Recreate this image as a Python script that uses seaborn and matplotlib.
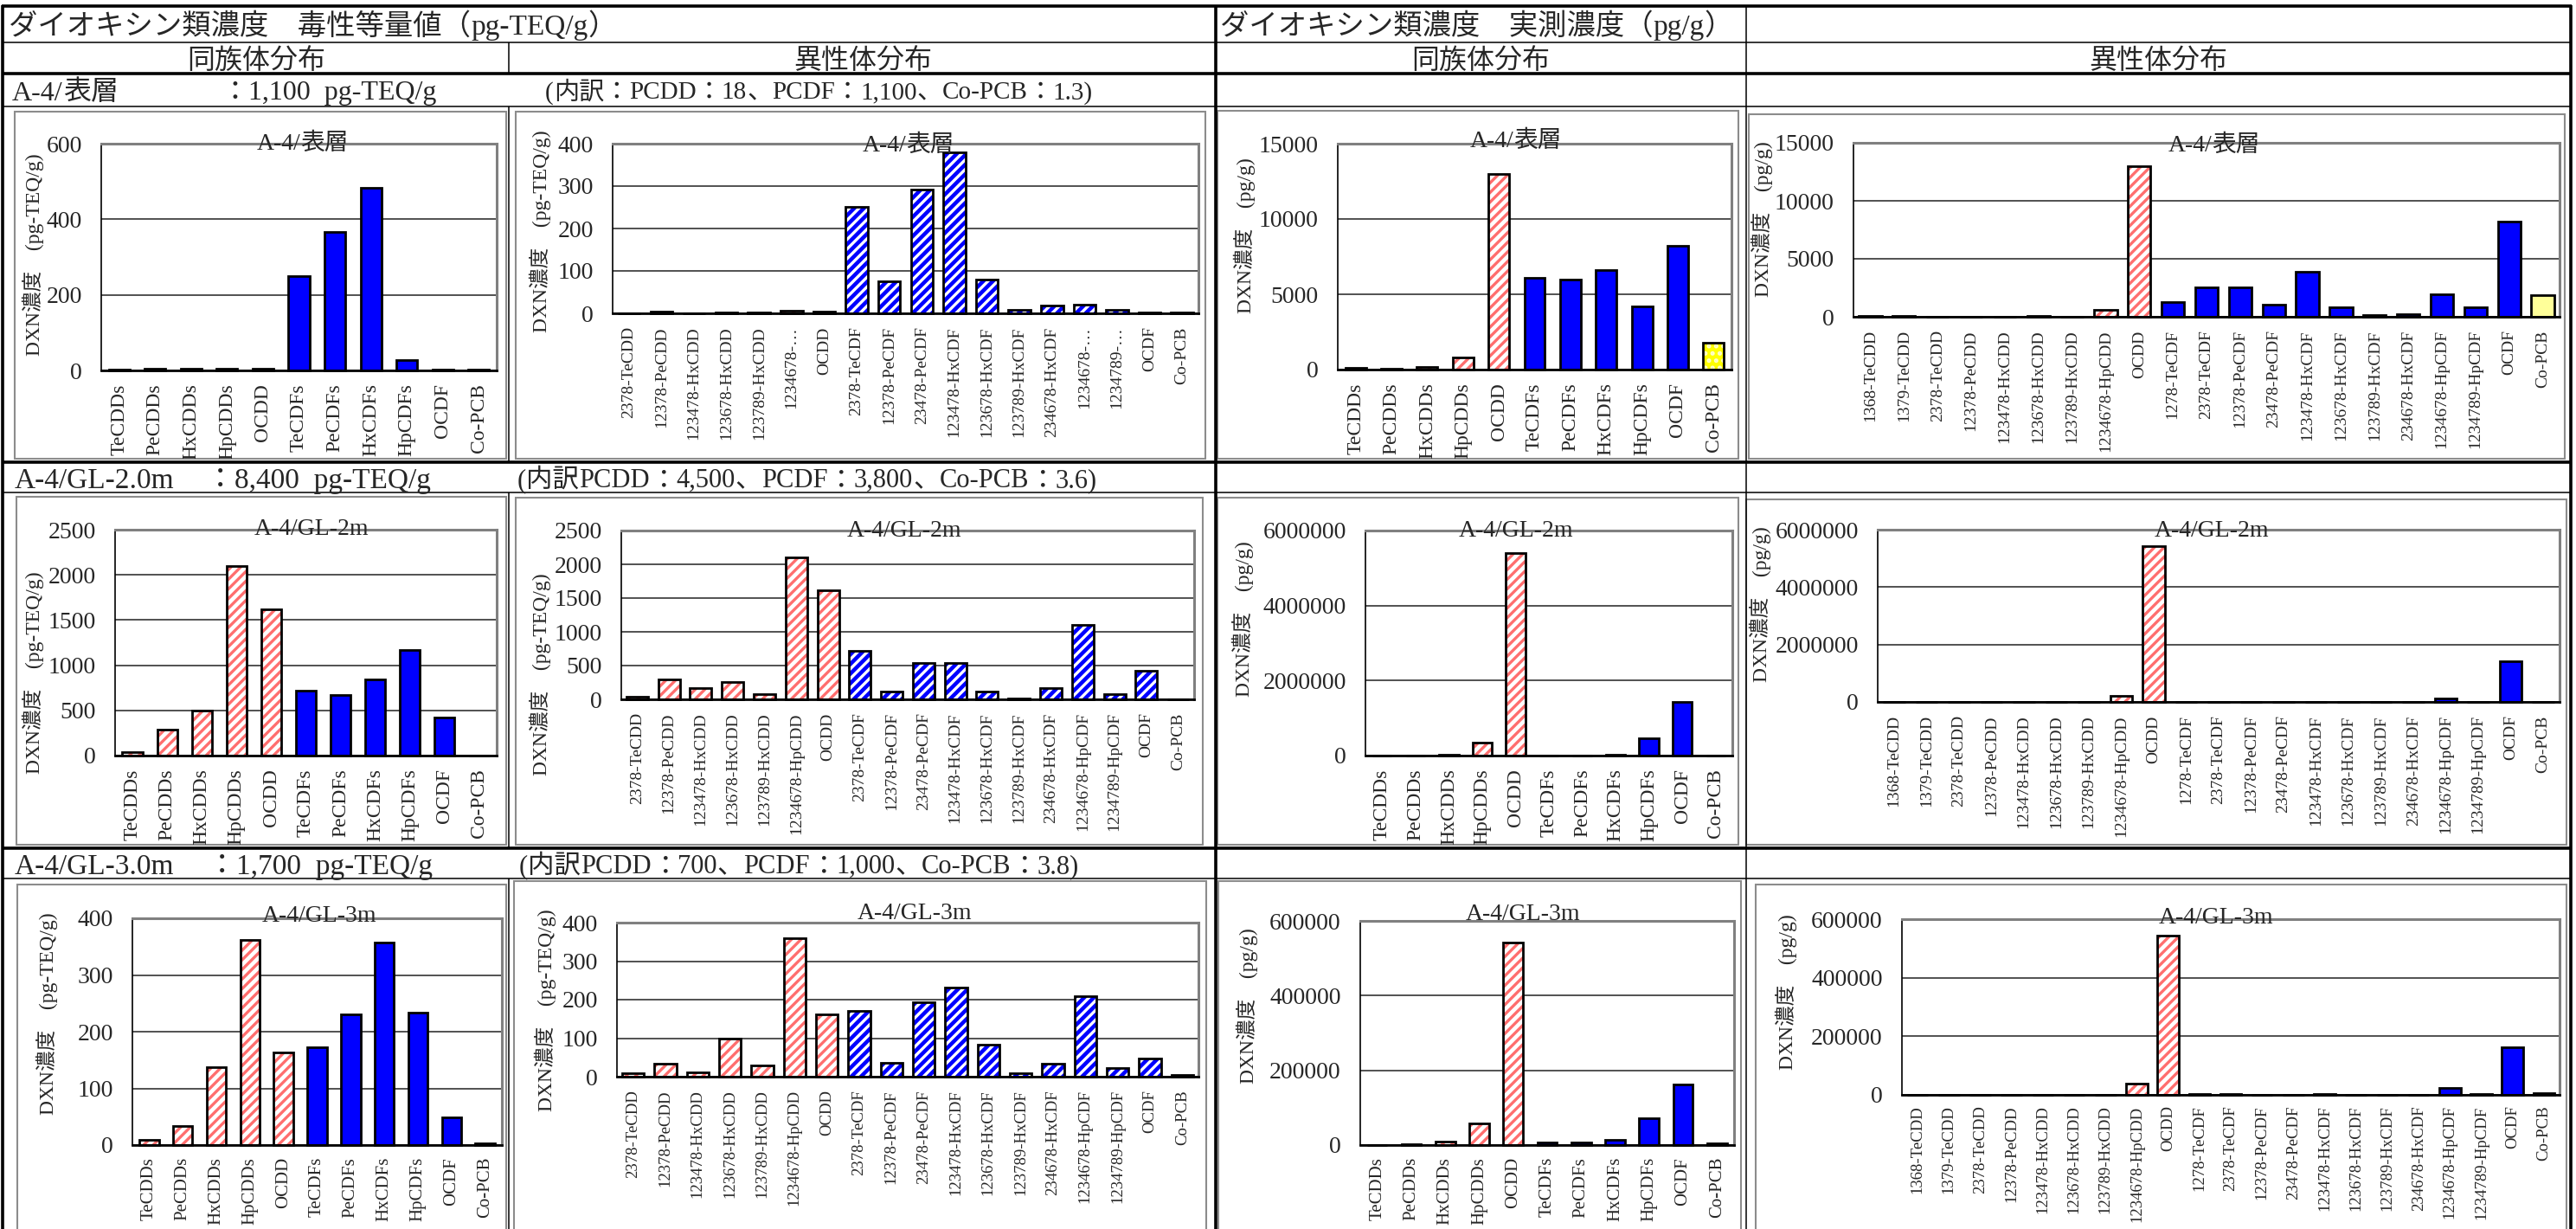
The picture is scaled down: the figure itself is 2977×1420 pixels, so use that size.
import numpy as np
import pandas as pd
import matplotlib
matplotlib.use("Agg")
import matplotlib.pyplot as plt
import seaborn as sns
from matplotlib.patches import Rectangle
from matplotlib.lines import Line2D
from matplotlib.transforms import Bbox, TransformedBbox

# ---------------- data ----------------
congeners = ["TeCDDs", "PeCDDs", "HxCDDs", "HpCDDs", "OCDD",
             "TeCDFs", "PeCDFs", "HxCDFs", "HpCDFs", "OCDF", "Co-PCB"]

isomers_teq = ["2378-TeCDD", "12378-PeCDD", "123478-HxCDD", "123678-HxCDD",
               "123789-HxCDD", "1234678-HpCDD", "OCDD", "2378-TeCDF",
               "12378-PeCDF", "23478-PeCDF", "123478-HxCDF", "123678-HxCDF",
               "123789-HxCDF", "234678-HxCDF", "1234678-HpCDF", "1234789-HpCDF",
               "OCDF", "Co-PCB"]
isomers_teq_labels_short = ["2378-TeCDD", "12378-PeCDD", "123478-HxCDD", "123678-HxCDD",
                            "123789-HxCDD", "1234678-…", "OCDD", "2378-TeCDF",
                            "12378-PeCDF", "23478-PeCDF", "123478-HxCDF", "123678-HxCDF",
                            "123789-HxCDF", "234678-HxCDF", "1234678-…", "1234789-…",
                            "OCDF", "Co-PCB"]

isomers_act = ["1368-TeCDD", "1379-TeCDD", "2378-TeCDD", "12378-PeCDD",
               "123478-HxCDD", "123678-HxCDD", "123789-HxCDD", "1234678-HpCDD",
               "OCDD", "1278-TeCDF", "2378-TeCDF", "12378-PeCDF", "23478-PeCDF",
               "123478-HxCDF", "123678-HxCDF", "123789-HxCDF", "234678-HxCDF",
               "1234678-HpCDF", "1234789-HpCDF", "OCDF", "Co-PCB"]

# A-4/表層
s_teq_cong = [1.5, 3.5, 4.5, 5.7, 3.9, 250, 367, 483, 28, 2.5, 1.3]
s_teq_iso = [0.9, 3.2, 0.8, 1.6, 1.2, 5.7, 3.9, 251, 76, 292, 380, 80, 8, 18, 20, 9, 2.5, 1.3]
s_act_cong = [130, 60, 150, 803, 13000, 6100, 6000, 6590, 4185, 8200, 1800]
s_act_iso = [60, 40, 10, 25, 20, 40, 30, 570, 13000, 1240, 2560, 2560, 1070, 3860,
             820, 120, 250, 1965, 820, 8200, 1865]

# A-4/GL-2m
m2_teq_cong = [38, 287, 494, 2100, 1618, 723, 669, 844, 1172, 420, 3.6]
m2_teq_iso = [34, 292, 163, 257, 77, 2105, 1621, 720, 120, 540, 540, 120, 13, 172,
              1102, 77, 420, 3.6]
m2_act_cong = [3000, 2000, 12000, 346000, 5410000, 8000, 6000, 15000, 462000, 1420000, 1000]
m2_act_iso = [500, 300, 34, 292, 1630, 2570, 770, 210000, 5420000, 1000, 7200, 4000,
              1080, 5400, 1200, 130, 1720, 110000, 7700, 1410000, 1000]

# A-4/GL-3m
m3_teq_cong = [8.6, 34, 138, 362, 164, 172, 230, 357, 234, 49, 3.8]
m3_teq_iso = [8, 34, 12, 98, 29, 360, 161, 170, 36, 193, 231, 84, 10, 34, 210, 22, 48, 3.8]
m3_act_cong = [1000, 1500, 10000, 58000, 541000, 7000, 6000, 15000, 72000, 163000, 5000]
m3_act_iso = [1000, 800, 8, 34, 120, 980, 290, 39500, 543000, 2000, 1700, 1200, 640,
              2300, 840, 100, 340, 24700, 2200, 164000, 5000]

yt_r1 = [[0, 200, 400, 600], [0, 100, 200, 300, 400], [0, 5000, 10000, 15000], [0, 5000, 10000, 15000]]
yt_r2 = [[0, 500, 1000, 1500, 2000, 2500], [0, 500, 1000, 1500, 2000, 2500],
         [0, 2000000, 4000000, 6000000], [0, 2000000, 4000000, 6000000]]
yt_r3 = [[0, 100, 200, 300, 400], [0, 100, 200, 300, 400],
         [0, 200000, 400000, 600000], [0, 200000, 400000, 600000]]

titles = ["A-4/表層", "A-4/GL-2m", "A-4/GL-3m"]
ylab_teq = "DXN濃度　(pg-TEQ/g)"
ylab_act = "DXN濃度　(pg/g)"

# ---------------- style ----------------
sns.set_style("white")
plt.rcParams["font.family"] = ["Liberation Serif", "Noto Sans CJK JP"]
plt.rcParams["hatch.linewidth"] = 2.4

W, H = 2977, 1420
fig = plt.figure(figsize=(W / 100, H / 100), dpi=100)
fig.patch.set_facecolor("white")
renderer = fig.canvas.get_renderer()

PINK = dict(face="white", hatch="///", hc="#FF6E6E")
BLUE = dict(face="#0000FF", hatch=None)
BLUEH = dict(face="#0000FF", hatch="///", hc="white")
YDOT = dict(face="#FFFF00", hatch="..", hc="#FFFFD0")
YEL = dict(face="#FFFF99", hatch=None)

cong_styles = [PINK] * 5 + [BLUE] * 5 + [YDOT]
teq_iso_styles = [PINK] * 7 + [BLUEH] * 10 + [YEL]
act_iso_styles = [PINK] * 9 + [BLUE] * 11 + [YEL]

LATIN = ["Liberation Serif"]
CJK = ["Noto Sans CJK JP"]


def text_runs(s):
    out = []
    for ch in s:
        wide = ord(ch) > 0x2000
        if out and out[-1][1] == wide:
            out[-1][0] += ch
        else:
            out.append([ch, wide])
    return out


def rich_text(x, y, s, size, ha="left", zorder=11):
    """Mixed Japanese / Latin text, one font per run, sharing one baseline."""
    pieces = []
    base = y + 0.36 * size * 100 / 72
    for txt, wide in text_runs(s):
        t = fig.text(0, 0, txt, fontsize=size, family=CJK if wide else LATIN,
                     ha="left", va="baseline", zorder=zorder)
        pieces.append((t, t.get_window_extent(renderer).width))
    total = sum(w for _, w in pieces)
    x0 = x - total / 2 if ha == "center" else x
    for t, w in pieces:
        t.set_position((x0 / W, 1 - base / H))
        x0 += w


def frect(l, t, r, b):
    return [l / W, 1 - b / H, (r - l) / W, (b - t) / H]


def chart(box, plot, cats, vals, labels, styles, yticks, ylabel, ylab_xy,
          title, title_xy, width, xfs, xpad=11):
    l, t, r, b = box
    fig.add_artist(Rectangle((l / W, 1 - b / H), (r - l) / W, (b - t) / H,
                             transform=fig.transFigure, fc="white",
                             ec="#8c8c8c", lw=1.5, zorder=0))
    ax = fig.add_axes(frect(*plot))
    ax.set_zorder(1)
    df = pd.DataFrame({"cat": cats, "val": vals})
    sns.barplot(data=df, x="cat", y="val", order=cats, ax=ax, color="white",
                width=width, errorbar=None, saturation=1, linewidth=0)
    bars = list(ax.patches)
    for p, st in zip(bars, styles):
        p.set_facecolor(st["face"])
        if st["hatch"]:
            p.set_hatch(st["hatch"])
            p.set_edgecolor(st["hc"])
        else:
            p.set_edgecolor("none")
        p.set_linewidth(0)
        ax.add_patch(Rectangle((p.get_x(), p.get_y()), p.get_width(), p.get_height(),
                               fill=False, ec="black", lw=2.0, zorder=p.get_zorder() + 0.5,
                               joinstyle="miter", clip_on=False))
    n = len(cats)
    ax.set_xlim(-0.5, n - 0.5)
    ax.set_ylim(yticks[0], yticks[-1])
    ax.set_yticks(yticks)
    ax.set_yticklabels([str(v) for v in yticks], fontsize=20)
    ax.set_xticks(range(n))
    ax.set_xticklabels(labels, rotation=90, fontsize=xfs)
    ax.set_xticks(np.arange(n + 1) - 0.5, minor=True)
    ax.tick_params(axis="x", which="major", length=0, pad=xpad)
    ax.tick_params(axis="x", which="minor", length=5, direction="in",
                   color="#808080", width=1)
    ax.tick_params(axis="y", length=0, pad=16)
    ax.yaxis.grid(True, color="#333333", lw=1.2)
    ax.xaxis.grid(False)
    ax.set_axisbelow(True)
    for s in ("top", "right"):
        ax.spines[s].set_color("#808080")
        ax.spines[s].set_linewidth(2.2)
    ax.spines["left"].set_color("black")
    ax.spines["left"].set_linewidth(1.2)
    ax.spines["bottom"].set_color("black")
    ax.spines["bottom"].set_linewidth(2.0)
    ax.set_xlabel("")
    ax.set_ylabel(ylabel, fontsize=17)
    ax.yaxis.set_label_coords(ylab_xy[0] / W, 1 - ylab_xy[1] / H, transform=fig.transFigure)
    ax.yaxis.label.set_verticalalignment("center")
    clipbb = TransformedBbox(Bbox.from_extents(l / W, 1 - b / H, r / W, 1 - t / H),
                             fig.transFigure)
    for lbl in ax.get_xticklabels():
        lbl.set_clip_box(clipbb)
        lbl.set_clip_on(True)
    rich_text(title_xy[0], title_xy[1], title, 20, ha="center", zorder=5)
    return ax


CW, IW = 0.58, 0.68
CFS, IFS = 17, 14

# ---- row 1 ----
chart((17, 129, 585, 530), (117, 166, 574, 428), congeners, s_teq_cong, congeners,
      cong_styles, yt_r1[0], ylab_teq, (38, 294), titles[0], (350, 163), CW, CFS)
chart((596, 129, 1393, 530), (708, 166, 1385, 362), isomers_teq, s_teq_iso,
      isomers_teq_labels_short, teq_iso_styles, yt_r1[1], ylab_teq, (624, 267),
      titles[0], (1050, 165), IW, IFS)
chart((1407, 128, 2009, 530), (1546, 166, 2001, 427), congeners, s_act_cong, congeners,
      cong_styles, yt_r1[2], ylab_act, (1438, 272), titles[0], (1752, 160), CW, CFS)
chart((2021, 132, 2964, 530), (2142, 165, 2958, 366), isomers_act, s_act_iso, isomers_act,
      act_iso_styles, yt_r1[3], ylab_act, (2036, 253), titles[0], (2559, 165), IW, IFS)

# ---- row 2 ----
chart((19, 574, 585, 976), (133, 612, 574, 873), congeners, m2_teq_cong, congeners,
      cong_styles, yt_r2[0], ylab_teq, (38, 777), titles[1], (360, 608), CW, CFS)
chart((596, 575, 1390, 976), (718, 613, 1380, 808), isomers_teq, m2_teq_iso, isomers_teq,
      teq_iso_styles, yt_r2[1], ylab_teq, (624, 779), titles[1], (1045, 610), IW, IFS)
chart((1407, 575, 2009, 976), (1578, 613, 2002, 873), congeners, m2_act_cong, congeners,
      cong_styles, yt_r2[2], ylab_act, (1436, 715), titles[1], (1752, 610), CW, CFS)
chart((2018, 577, 2966, 976), (2170, 612, 2958, 811), isomers_act, m2_act_iso, isomers_act,
      act_iso_styles, yt_r2[3], ylab_act, (2034, 698), titles[1], (2556, 610), IW, IFS)

# ---- row 3 ----
chart((20, 1022, 585, 1425), (153, 1061, 580, 1323), congeners, m3_teq_cong, congeners,
      cong_styles, yt_r3[0], ylab_teq, (54, 1171), titles[2], (369, 1055), CW, 15, 10)
chart((594, 1018, 1394, 1425), (713, 1066, 1385, 1244), isomers_teq, m3_teq_iso, isomers_teq,
      teq_iso_styles, yt_r3[1], ylab_teq, (630, 1167), titles[2], (1057, 1052), IW, 13.5)
chart((1408, 1018, 2012, 1425), (1572, 1064, 2004, 1323), congeners, m3_act_cong, congeners,
      cong_styles, yt_r3[2], ylab_act, (1441, 1162), titles[2], (1760, 1053), CW, 15, 10)
chart((2029, 1022, 2966, 1425), (2198, 1062, 2958, 1265), isomers_act, m3_act_iso, isomers_act,
      act_iso_styles, yt_r3[3], ylab_act, (2064, 1146), titles[2], (2561, 1057), IW, 13.5, 9)

# ---------------- table frame ----------------
def hline(y, x0, x1, lw):
    fig.add_artist(Line2D([x0 / W, x1 / W], [1 - y / H, 1 - y / H], transform=fig.transFigure,
                          color="black", lw=lw, zorder=10, solid_capstyle="butt"))


def vline(x, y0, y1, lw):
    fig.add_artist(Line2D([x / W, x / W], [1 - y0 / H, 1 - y1 / H], transform=fig.transFigure,
                          color="black", lw=lw, zorder=10, solid_capstyle="butt"))


THICK, THIN = 2.6, 1.1
for y, lw in [(7, THICK), (49, THIN), (85, THICK), (123, THIN),
              (534, THICK), (569, THIN), (980, THICK), (1015, THIN)]:
    hline(y, 2, 2972, lw)
vline(3, 6, 1420, THICK)
vline(2971, 6, 1420, THICK)
vline(1405, 6, 1420, THICK)
vline(2018, 6, 1420, THIN)
for y0, y1 in [(49, 85), (123, 534), (569, 980), (1015, 1420)]:
    vline(588, y0, y1, THIN)

# ---------------- header texts ----------------
rich_text(10, 28, "ダイオキシン類濃度　毒性等量値（pg-TEQ/g）", 24)
rich_text(1410, 28, "ダイオキシン類濃度　実測濃度（pg/g）", 24)
rich_text(296, 67, "同族体分布", 23, ha="center")
rich_text(997, 67, "異性体分布", 23, ha="center")
rich_text(1711, 67, "同族体分布", 23, ha="center")
rich_text(2494, 67, "異性体分布", 23, ha="center")

rich_text(14, 104, "A-4/表層", 23)
rich_text(255, 104, "：1,100  pg-TEQ/g", 23)
rich_text(630, 104, "(内訳：PCDD：18、PCDF：1,100、Co-PCB：1.3)", 21)

rich_text(17, 552, "A-4/GL-2.0m", 24)
rich_text(238, 552, "：8,400  pg-TEQ/g", 24)
rich_text(598, 552, "(内訳PCDD：4,500、PCDF：3,800、Co-PCB：3.6)", 22)

rich_text(17, 998, "A-4/GL-3.0m", 24)
rich_text(240, 998, "：1,700  pg-TEQ/g", 24)
rich_text(600, 998, "(内訳PCDD：700、PCDF：1,000、Co-PCB：3.8)", 22)

fig.savefig("out.png", dpi=100, facecolor="white")
